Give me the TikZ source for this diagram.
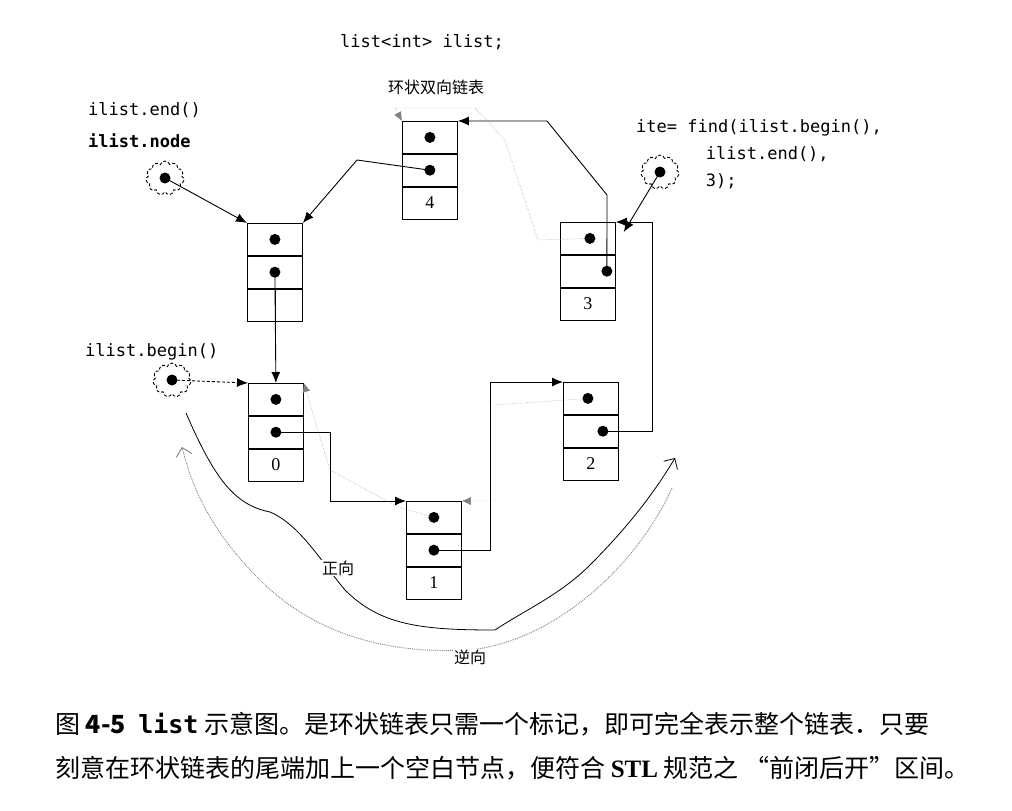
\documentclass[tikz,border=0pt]{standalone}
\usepackage{fontspec}
\setmainfont{Liberation Serif}
\setmonofont{DejaVu Sans Mono}
\newfontfamily\cjk{Noto Sans CJK SC}
\usetikzlibrary{positioning,arrows.meta,shapes.symbols}
\tikzset{
  cell/.style={draw, rectangle, line width=0.8pt, minimum width=55pt, minimum height=32pt, inner sep=0pt, font=\fontsize{18}{18}\selectfont},
  dot/.style={circle, fill, inner sep=0pt, minimum size=11pt},
  next/.style={draw, -{Latex[length=11pt,width=9pt]}, line width=0.9pt},
  prev/.style={draw, gray, densely dotted, -{Latex[length=9pt,width=8pt]}},
  blob/.style={cloud, draw, densely dashed, line width=0.9pt, cloud puffs=11, minimum width=38pt, minimum height=34pt, inner sep=0pt},
  code/.style={font=\ttfamily\fontsize{17}{27}\selectfont, anchor=west, align=left, inner sep=0pt},
}
\newcommand{\listbox}[4]{%
  \node [cell, anchor=north west] (#1a) at (#2,#3) {};
  \node [cell, below=0pt of #1a] (#1b) {};
  \node [cell, below=0pt of #1b] (#1c) {#4};
}
\begin{document}
\begin{tikzpicture}[x=1pt, y=-1pt]
  \useasboundingbox (0,0) rectangle (1012,811);
  % boxes
  \listbox{nE}{247}{223}{}
  \listbox{nf}{402}{121}{4}
  \listbox{nt}{560}{222}{3}
  \listbox{nz}{248}{383}{0}
  \listbox{no}{406}{501}{1}
  \listbox{nw}{563}{382}{2}
  \draw [line width=0.8pt] (nEc.north) -- (nEc.south);
  % dots
  \foreach \n in {nE,nf,nz,no} {
    \node [dot] (\n da) at (\n a) {};
    \node [dot] (\n db) at (\n b) {};
  }
  \node [dot] (ntda) at ([xshift=2pt]nta) {};
  \node [dot] (ntdb) at ([xshift=19pt]ntb) {};
  \node [dot] (nwda) at ([xshift=-3pt]nwa) {};
  \node [dot] (nwdb) at ([xshift=12pt]nwb) {};
  % next links
  \path [next] (nEdb.center) -- (nza.north);
  \path [next] (nzdb.center) -| (330,501) -- (noa.north west);
  \path [next] (nodb.center) -| (490,382) -- (nwa.north west);
  \path [next] (nwdb.center) -| (652,222) -- (nta.north east);
  \path [next] (ntdb.center) -- (607,195) -- (547,121) -- (nfa.north east);
  \path [next] (nfdb.center) -- (357,160) -- (nEa.north east);
  % prev links
  \path [prev] (ntda.center) -- (538,240) -- (505,140) -- (475,108) -- (395,108) -- (nfa.north west);
  \path [prev] (nwda.center) -- (495,405) -- (495,501) -- (noa.north east);
  \path [prev] (noda.center) -- (398,507) -- (330,470) -- (nza.north east);
  % iterators
  \node [blob] (bnode) at (165,178) {};
  \node [dot] (bnoded) at (bnode) {};
  \node [blob] (bbegin) at (172,380) {};
  \node [dot] (bbegind) at (bbegin) {};
  \node [blob] (bite) at (660,172) {};
  \node [dot] (bited) at (bite) {};
  \path [next] (bnoded.center) -- (nEa.north west);
  \path [next, densely dashed] (bbegind.center) -- (nza.north west);
  \path [next] (bited.center) -- ([xshift=8pt,yshift=-10pt]nta.north east);
  % labels
  \node [code] (tdecl) at (340,42) {list<int> ilist;};
  \node [font=\cjk\fontsize{16}{16}\selectfont] (tring) at (436,87) {环状双向链表};
  \node [code] (tend) at (88,110) {ilist.end()};
  \node [code, font=\ttfamily\bfseries\fontsize{17}{18}\selectfont] (tnode) at (88,141) {ilist.node};
  \node [code] (tbegin) at (85,352) {ilist.begin()};
  \node [code, anchor=north west] (tite) at (636,119) {ite= find(ilist.begin(),\\\hspace{4.1em}ilist.end(),\\\hspace{4.1em}3);};
  % directions
  \draw [line width=0.8pt, -{Straight Barb[length=8pt]}] (186,413) .. controls (215,480) and (235,505) .. (270,512)
    .. controls (300,525) and (320,560) .. (345,590)
    .. controls (380,625) and (420,630) .. (495,630)
    .. controls (525,610) and (560,595) .. (590,565)
    .. controls (620,535) and (650,500) .. (675,458);
  \draw [gray, densely dotted, line width=0.9pt, -{Straight Barb[length=8pt]}] (672,488) .. controls (640,560) and (560,640) .. (470,650)
    .. controls (380,655) and (310,630) .. (260,580)
    .. controls (220,540) and (195,500) .. (182,447);
  \node [fill=white, inner sep=1pt, font=\cjk\fontsize{16}{16}\selectfont] (tfwd) at (338,568) {正向};
  \node [fill=white, inner sep=1pt, font=\cjk\fontsize{16}{16}\selectfont] (tbwd) at (470,657) {逆向};
  % caption
  \node [anchor=west, inner sep=0pt, font=\cjk\fontsize{25}{25}\selectfont] (cap1) at (55,724)
    {图 \textbf{4-5}\enspace {\ttfamily\bfseries list} 示意图。是环状链表只需一个标记，即可完全表示整个链表．只要};
  \node [anchor=west, inner sep=0pt, font=\cjk\fontsize{25}{25}\selectfont] (cap2) at (55,768)
    {刻意在环状链表的尾端加上一个空白节点，便符合 {\rmfamily\bfseries STL} 规范之 “前闭后开”区间。};
\end{tikzpicture}
\end{document}
